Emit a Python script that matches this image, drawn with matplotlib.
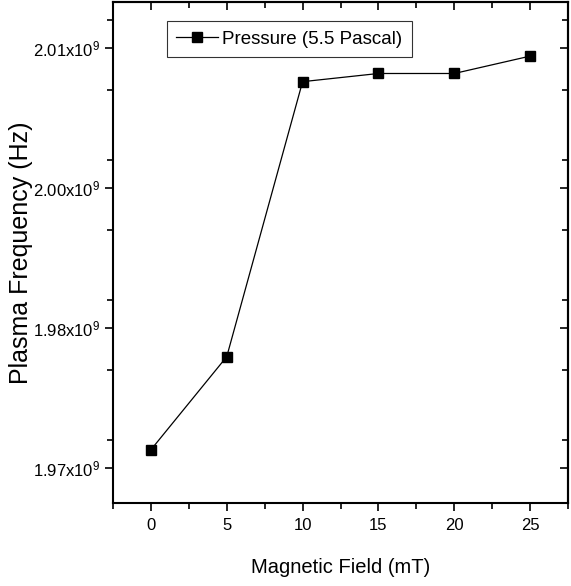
import matplotlib
matplotlib.use("Agg")
import matplotlib.pyplot as plt
from matplotlib.ticker import FixedLocator, MultipleLocator

plt.rcParams['font.family'] = ['Liberation Sans', 'DejaVu Sans']
plt.rcParams['mathtext.fontset'] = 'custom'
plt.rcParams['mathtext.rm'] = 'Liberation Sans'
plt.rcParams['mathtext.it'] = 'Liberation Sans:italic'
plt.rcParams['mathtext.bf'] = 'Liberation Sans:bold'

field = [0, 5, 10, 15, 20, 25]
freq = [1.97414e9, 1.98245e9, 2.00699e9, 2.00772e9, 2.00772e9, 2.00927e9]
ytick_vals = [1.9725e9, 1.985e9, 1.9975e9, 2.01e9]
ytick_labels = [r'1.97x10$^{9}$', r'1.98x10$^{9}$', r'2.00x10$^{9}$', r'2.01x10$^{9}$']
series_label = 'Pressure (5.5 Pascal)'

fig = plt.figure(figsize=(5.71, 5.86), dpi=100)
ax = fig.add_axes([113/571, 1-503/586, (568-113)/571, (503-2)/586])
ax.plot(field, freq, color='black', lw=0.9, marker='s', ms=7.5, mfc='black', mec='black',
        label=series_label)
ax.set_xlim(-2.5, 27.5)
ax.set_ylim(1.96939e9, 2.0141e9)
ax.xaxis.set_major_locator(FixedLocator(field))
ax.xaxis.set_minor_locator(MultipleLocator(2.5))
ax.yaxis.set_major_locator(FixedLocator(ytick_vals))
ax.yaxis.set_minor_locator(MultipleLocator(0.00625e9))
ax.set_yticklabels(ytick_labels)
ax.tick_params(axis='both', which='both', direction='out', width=1.2, labelsize=12)
ax.tick_params(which='major', length=6)
ax.tick_params(which='minor', length=4)
ax.tick_params(axis='x', pad=5)
ax.tick_params(axis='y', pad=3)
axt = ax.secondary_xaxis('top')
axt.xaxis.set_major_locator(FixedLocator(field))
axt.xaxis.set_minor_locator(MultipleLocator(2.5))
axt.tick_params(which='both', direction='in', labeltop=False, width=1.2)
axt.tick_params(which='major', length=6)
axt.tick_params(which='minor', length=4)
axr = ax.secondary_yaxis('right')
axr.yaxis.set_major_locator(FixedLocator(ytick_vals))
axr.yaxis.set_minor_locator(MultipleLocator(0.00625e9))
axr.tick_params(which='both', direction='in', labelright=False, width=1.2)
axr.tick_params(which='major', length=6)
axr.tick_params(which='minor', length=4)
for s in ax.spines.values():
    s.set_linewidth(1.5)
axt.spines['top'].set_linewidth(1.5)
axr.spines['right'].set_linewidth(1.5)

ax.set_xlabel('Magnetic Field (mT)', fontsize=14.5, labelpad=18)
ax.set_ylabel('Plasma Frequency (Hz)', fontsize=18, labelpad=0)
leg = ax.legend(loc='upper left', bbox_to_anchor=((167-113)/455, 1-(21-2)/501),
                fontsize=13.5, frameon=True, fancybox=False, edgecolor='black',
                handlelength=2.2, handletextpad=0.25, borderpad=0.5, borderaxespad=0)
leg.get_frame().set_linewidth(0.8)
fig.savefig('out.png', dpi=100)
